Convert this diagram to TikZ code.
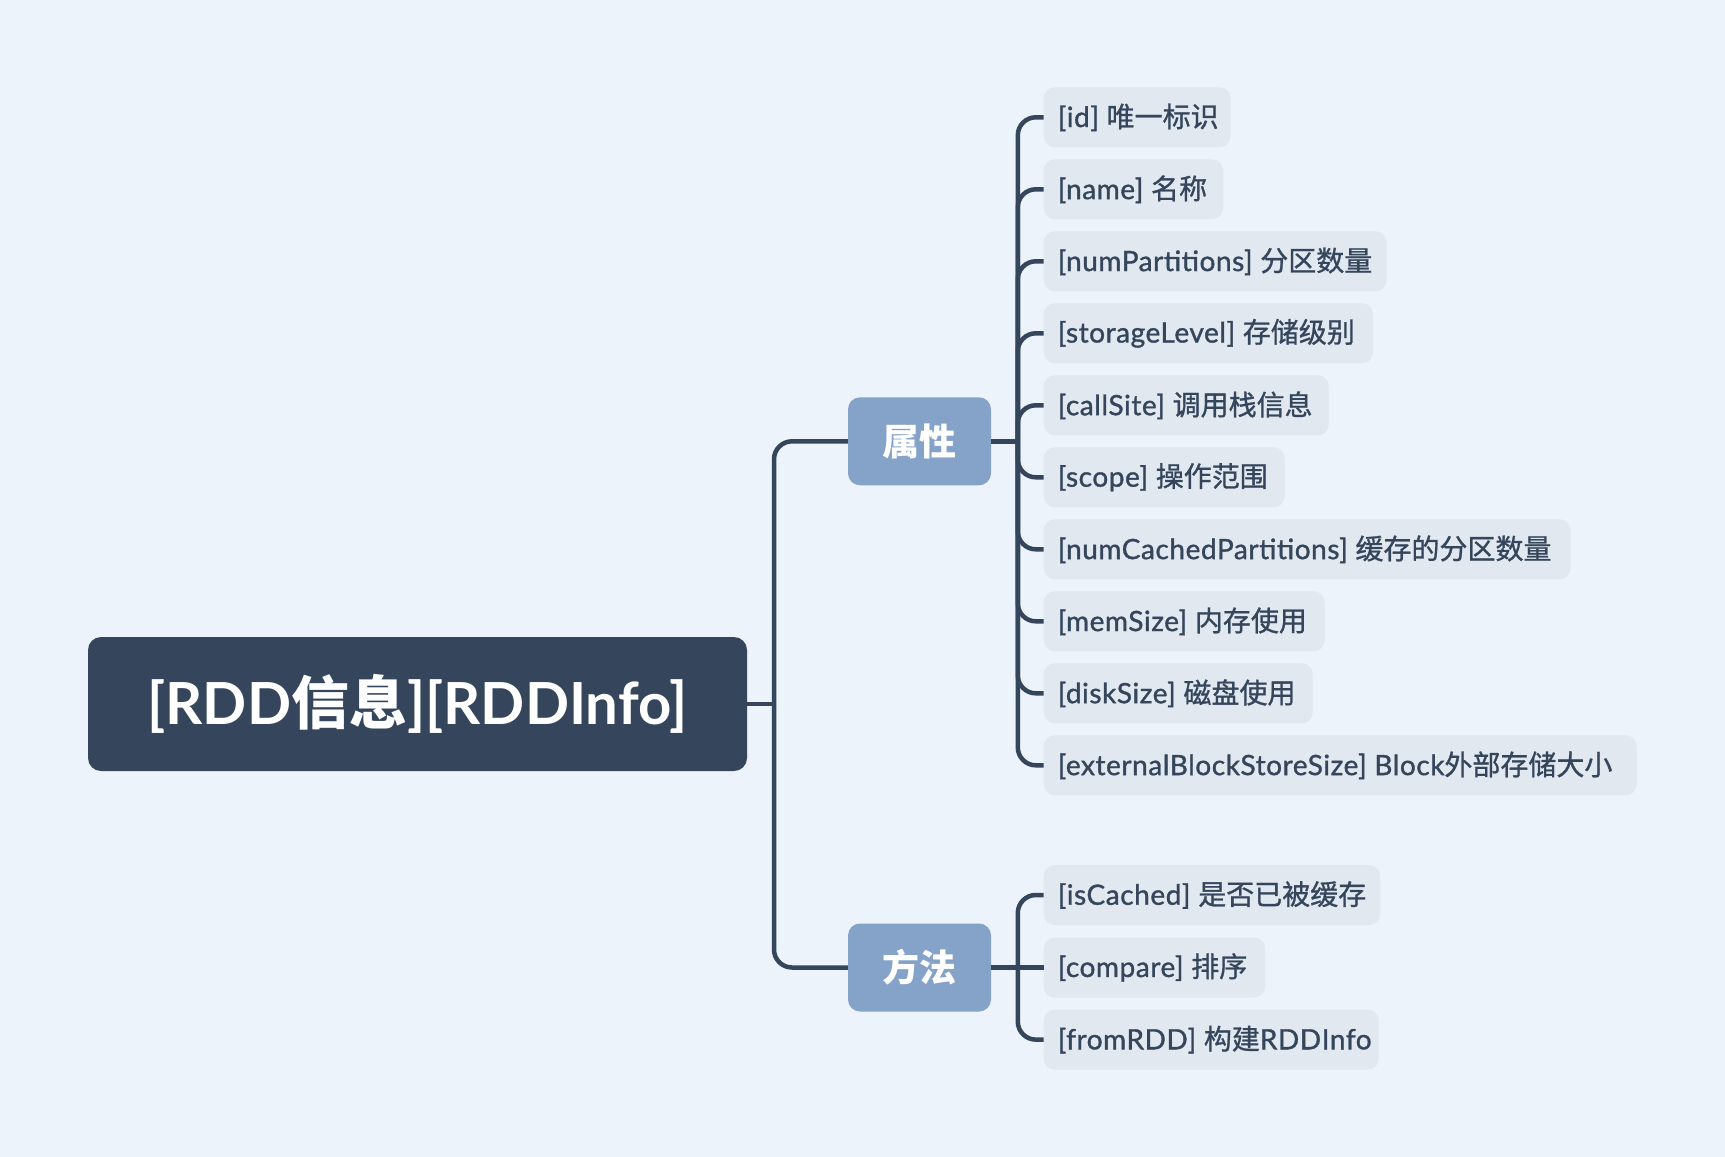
\documentclass[tikz,border=0pt]{standalone}
\usepackage{fontspec}
\setmainfont{Lato}
\newfontfamily\cjk{Noto Sans CJK SC}
\newfontfamily\latm{Lato}[FakeBold=1.2,LetterSpace=2]
\newfontfamily\cjkm{Noto Sans CJK SC}[FakeBold=1.0]
\newcommand\zh[1]{{\cjk #1}}
\newcommand\lt[2]{\makebox[#1pt][l]{\raisebox{-1pt}{#2}}}
\definecolor{bgc}{HTML}{EDF3FA}
\definecolor{darkc}{HTML}{35465C}
\definecolor{catc}{HTML}{85A3C9}
\definecolor{leafc}{HTML}{E1E8F0}
\tikzset{
  rootbox/.style={fill=darkc, rounded corners=13, minimum width=659, minimum height=134,
    text=white, font=\bfseries\fontsize{58}{58}\selectfont, inner sep=0},
  catbox/.style={fill=catc, rounded corners=12, minimum width=143, minimum height=88,
    text=white, font=\bfseries\fontsize{37}{37}\selectfont, inner sep=0},
  leafbox/.style={fill=leafc, rounded corners=11, anchor=west, minimum height=60,
    inner xsep=14, inner ysep=0, text=darkc,
    font=\latm\let\cjk\cjkm\fontsize{28}{28}\selectfont},
  conn/.style={draw=darkc, line width=4.5},
  elbow/.style={conn, rounded corners=18}
}
\begin{document}
\begin{tikzpicture}[x=1pt,y=-1pt]
\fill[bgc] (0,0) rectangle (1725,1157);
\useasboundingbox (0,0) rectangle (1725,1157);

\node[rootbox] (root) at (417.5,704) {[RDD\zh{信息}][RDDInfo]};
\node[catbox] (attr) at (919.5,441.3) {\zh{属性}};
\node[catbox] (meth) at (919.5,967.5) {\zh{方法}};

\coordinate (t1) at (774,704);
\coordinate (t2) at (1017.8,441.3);
\coordinate (t3) at (1017.8,967.5);

\node[leafbox] (l1)  at (1043.5,117.3) {\lt{159}{[id] \zh{唯一标识}}};
\node[leafbox] (l2)  at (1043.5,189.3) {\lt{151.3}{[name] \zh{名称}}};
\node[leafbox] (l3)  at (1043.5,261.3) {\lt{315}{[numPartitions] \zh{分区数量}}};
\node[leafbox] (l4)  at (1043.5,333.3) {\lt{301.3}{[storageLevel] \zh{存储级别}}};
\node[leafbox] (l5)  at (1043.5,405.3) {\lt{257}{[callSite] \zh{调用栈信息}}};
\node[leafbox] (l6)  at (1043.5,477.3) {\lt{213}{[scope] \zh{操作范围}}};
\node[leafbox] (l7)  at (1043.5,549.3) {\lt{499}{[numCachedPartitions] \zh{缓存的分区数量}}};
\node[leafbox] (l8)  at (1043.5,621.3) {\lt{253}{[memSize] \zh{内存使用}}};
\node[leafbox] (l9)  at (1043.5,693.3) {\lt{241}{[diskSize] \zh{磁盘使用}}};
\node[leafbox] (l10) at (1043.5,765.3) {\lt{565}{[externalBlockStoreSize] Block\zh{外部存储大小}}};

\node[leafbox] (m1) at (1043.5,895)    {\lt{308.5}{[isCached] \zh{是否已被缓存}}};
\node[leafbox] (m2) at (1043.5,967.5)  {\lt{193.5}{[compare] \zh{排序}}};
\node[leafbox] (m3) at (1043.5,1039.6) {\lt{307}{[fromRDD] \zh{构建}RDDInfo}};

\draw[conn] (root.east) -- (t1);
\draw[elbow] (t1) |- (attr.west);
\draw[elbow] (t1) |- (meth.west);

\draw[conn] (attr.east) -- (t2);
\foreach \n in {l1,l2,l3,l4,l5,l6,l7,l8,l9,l10}
  \draw[elbow] (t2) |- (\n.west);

\draw[conn] (meth.east) -- (t3);
\draw[elbow] (t3) |- (m1.west);
\draw[conn] (t3) -- (m2.west);
\draw[elbow] (t3) |- (m3.west);
\end{tikzpicture}
\end{document}
